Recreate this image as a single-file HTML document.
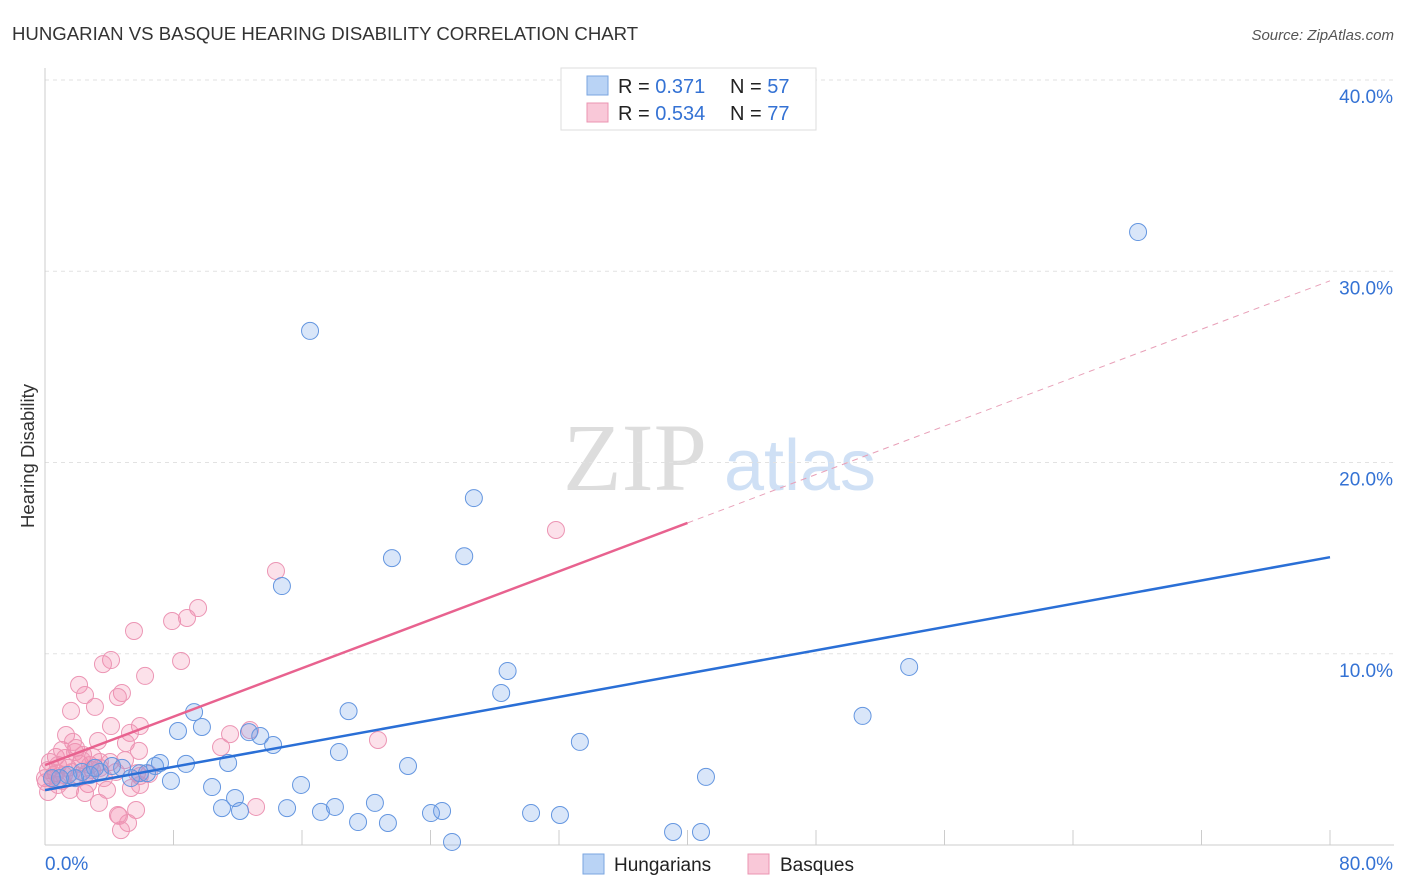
<!DOCTYPE html>
<html><head><meta charset="utf-8"><style>
html,body{margin:0;padding:0;background:#fff;width:1406px;height:892px;overflow:hidden;font-family:"Liberation Sans",sans-serif}
svg{position:absolute;left:0;top:0}
</style></head><body>
<svg id="chart" width="1406" height="892" viewBox="0 0 1406 892" xmlns="http://www.w3.org/2000/svg">
<text x="12" y="40" font-size="18.6" fill="#333">HUNGARIAN VS BASQUE HEARING DISABILITY CORRELATION CHART</text>
<text x="1394" y="40" font-size="15" fill="#555" text-anchor="end" font-style="italic">Source: ZipAtlas.com</text>
<text transform="translate(34,456) rotate(-90)" font-size="18.5" fill="#333" text-anchor="middle">Hearing Disability</text>
<g>
<text x="635" y="490" font-size="96" fill="#ddd" font-family="Liberation Serif,serif" text-anchor="middle">ZIP</text>
<text x="800" y="490" font-size="72" fill="#cfe0f5" text-anchor="middle">atlas</text>
</g>
<g id="grid"></g><g id="axes"></g><g id="lines"></g><g id="pts"></g>
<g>
<rect x="561" y="68" width="255" height="62" fill="#fff" stroke="#ddd"/>
<rect x="587" y="76" width="21" height="19" fill="#b9d3f5" stroke="#7aa6e0"/>
<rect x="587" y="103" width="21" height="19" fill="#f9c8d8" stroke="#eb94b2"/>
<text x="618" y="93" font-size="20" fill="#222">R = <tspan fill="#3472d4"> 0.371</tspan><tspan x="730">N = </tspan><tspan fill="#3472d4">57</tspan></text>
<text x="618" y="120" font-size="20" fill="#222">R = <tspan fill="#3472d4">0.534</tspan><tspan x="730">N = </tspan><tspan fill="#3472d4">77</tspan></text>
</g>
<g>
<rect x="583" y="854" width="21" height="20" fill="#b9d3f5" stroke="#7aa6e0"/>
<text x="614" y="871" font-size="19" fill="#222">Hungarians</text>
<rect x="748" y="854" width="21" height="20" fill="#f9c8d8" stroke="#eb94b2"/>
<text x="780" y="871" font-size="19" fill="#222">Basques</text>
</g>
</svg>
<script>
const xTicks=[0,8,16,24,32,40,48,56,64,72,80];
const yTicks=[10,20,30,40];
const yTickLabels=["10.0%","20.0%","30.0%","40.0%"];
const xEndLabels=["0.0%","80.0%"];
const hunX=[68.05,16.5,26.7,21.6,26.1,14.75,28.8,28.4,53.8,50.9,9.28,18.9,8.28,9.77,12.7,13.4,14.2,33.3,18.3,8.78,11.4,22.6,6.85,7.16,4.8,4.17,5.91,6.35,3.42,2.3,1.43,0.93,0.44,5.35,7.84,41.15,15.94,10.4,11.83,11.02,12.14,15.07,17.18,18.05,20.54,19.49,21.35,24.03,24.72,30.26,32.06,25.34,39.1,40.84,2.8,1.87,3.11];
const hunY=[32.05,26.88,18.14,15.0,15.1,13.54,9.1,7.95,9.31,6.75,6.95,7.0,5.96,6.17,5.9,5.7,5.23,5.39,4.86,4.24,4.29,4.13,4.13,4.29,4.03,4.13,3.76,3.76,3.82,3.82,3.66,3.5,3.5,3.5,3.35,3.56,3.14,3.03,2.46,1.93,1.78,1.93,1.73,1.99,2.2,1.2,1.15,1.67,1.78,1.67,1.57,0.16,0.68,0.68,3.66,3.5,4.03];
const basX=[31.81,14.38,9.53,7.91,8.84,5.54,8.47,4.11,3.61,6.23,2.12,4.79,4.54,2.49,1.62,3.11,4.11,5.91,5.29,10.96,11.52,12.76,20.73,5.04,1.31,1.74,3.30,5.85,0.68,1.25,1.87,2.37,2.99,4.05,4.98,0.31,0.81,1.43,2.18,2.80,3.42,0.19,0.68,1.18,1.68,2.55,4.42,6.47,0.0,0.44,1.06,2.05,2.93,3.67,5.73,5.91,5.35,3.86,2.68,1.56,0.81,0.19,2.49,3.36,5.67,4.61,5.17,4.73,13.14,4.54,0.06,0.56,2.30,3.42,1.06,1.93,5.91];
const basY=[16.47,14.33,12.39,11.71,11.87,11.19,9.62,9.67,9.46,8.84,8.37,7.95,7.74,7.84,7.01,7.22,6.22,6.22,5.86,5.12,5.80,6.01,5.49,5.33,5.75,5.39,5.44,4.92,4.60,4.55,4.86,4.71,4.60,4.34,4.44,4.34,4.18,4.03,4.24,4.18,4.03,3.92,3.76,3.66,3.82,3.71,3.82,3.71,3.50,3.45,3.35,3.50,3.92,3.50,3.76,3.14,2.98,2.88,3.19,2.88,3.14,2.77,2.72,2.20,1.83,1.52,1.15,0.78,1.99,1.57,3.29,3.66,4.44,4.34,4.97,5.07,3.61];
const hunFit=[2.87,15.05];
const basFit=[4.18,29.5];
const basSolidEnd=40;
const NS="http://www.w3.org/2000/svg";
const X=v=>45+v*(1285/80), Y=v=>845-v*19.125;
function mk(t,a,p){const e=document.createElementNS(NS,t);for(const k in a)e.setAttribute(k,a[k]);p.appendChild(e);return e;}
const grid=document.getElementById('grid'),axes=document.getElementById('axes'),lines=document.getElementById('lines'),pts=document.getElementById('pts');
yTicks.forEach((t,i)=>{
 const g=mk('line',{x1:45,x2:1394,y1:Y(t),y2:Y(t),stroke:'#e2e2e2','stroke-dasharray':'4,4'},grid);
 
 
 const l=mk('text',{x:1393,y:Y(t)+23,'font-size':19,fill:'#3472d4','text-anchor':'end'},axes);
 l.textContent=yTickLabels[i];
 
 
});
const ax=mk('line',{x1:45,x2:45,y1:68,y2:845,stroke:'#ccc'},axes);


const bx=mk('line',{x1:45,x2:1394,y1:845,y2:845,stroke:'#ccc'},axes);


xTicks.forEach(t=>{const k=mk('line',{x1:X(t),x2:X(t),y1:830,y2:845,stroke:'#ccc'},axes);
 
 });
const xl0=mk('text',{x:45,y:870,'font-size':19,fill:'#3472d4'},axes);xl0.textContent=xEndLabels[0];


const xl1=mk('text',{x:1393,y:870,'font-size':19,fill:'#3472d4','text-anchor':'end'},axes);xl1.textContent=xEndLabels[1];


function dots(xs,ys,fill,stroke,name){xs.forEach((x,i)=>{const c=mk('circle',{cx:X(x),cy:Y(ys[i]),r:8.5,fill:fill,stroke:stroke,'stroke-width':1},pts);
 
 });}
dots(basX,basY,'rgba(242,140,175,0.26)','#ec95b4','basque-point');
dots(hunX,hunY,'rgba(110,160,232,0.26)','#6496e0','hungarian-point');
const hl=mk('line',{x1:X(0),y1:Y(hunFit[0]),x2:X(80),y2:Y(hunFit[1]),stroke:'#2a6fd6','stroke-width':2.5},lines);


const bm=basFit[0]+(basFit[1]-basFit[0])*basSolidEnd/80;
const bl=mk('line',{x1:X(0),y1:Y(basFit[0]),x2:X(basSolidEnd),y2:Y(bm),stroke:'#e8628f','stroke-width':2.5},lines);


const bd=mk('line',{x1:X(basSolidEnd),y1:Y(bm),x2:X(80),y2:Y(basFit[1]),stroke:'#e8a0b8','stroke-width':1,'stroke-dasharray':'6,5'},lines);


pts.parentNode.insertBefore(lines,null);
</script>
</body></html>
